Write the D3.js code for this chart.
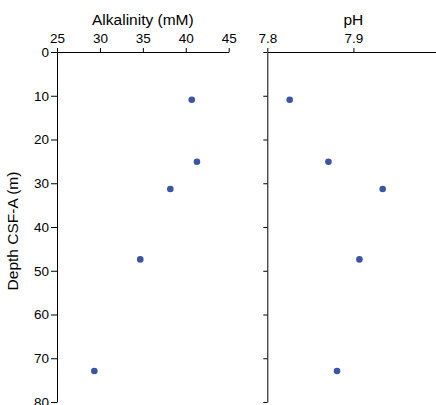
<!DOCTYPE html>
<html><head><meta charset="utf-8">
<script src="https://cdn.jsdelivr.net/npm/d3@7"></script>
<style>
html,body{margin:0;padding:0;background:#fff;}
svg{display:block;font-family:"Liberation Sans",Arial,Helvetica,sans-serif;}
</style></head>
<body>
<svg id="chart" width="436" height="405"></svg>
<script>
// Data
const depth = [10.9, 25.1, 31.3, 47.4, 72.9];
const alkalinity = [40.7, 41.3, 38.2, 34.7, 29.35];
const pH = [7.826, 7.871, 7.934, 7.907, 7.881];
const alkTicks = [25, 30, 35, 40, 45];
const pHTicks = [7.8, 7.9, 8.0];
const pHTickLabels = ["7.8", "7.9", "8"];
const depthTicks = [0, 10, 20, 30, 40, 50, 60, 70, 80];

(function () {
const svg = d3.select("#chart");
const plotTop = 52, plotBottom = 402;
const y = d3.scaleLinear().domain([0, 80]).range([plotTop, plotBottom]);
const xA = d3.scaleLinear().domain([25, 45]).range([57, 228.7]);
const xP = d3.scaleLinear().domain([7.8, 8.0]).range([267.3, 439.5]);
const dotColor = "#3b55a5";

function styleAxis(g, size) {
  g.selectAll("path").attr("stroke", "#000").attr("stroke-width", 1);
  g.selectAll("line").attr("stroke", "#000");
  g.selectAll("text").attr("fill", "#000").style("font-size", size + "px");
}

// Left panel
const gA = svg.append("g");
gA.append("g").attr("transform", `translate(0,${plotTop})`)
  .call(d3.axisTop(xA).tickValues(alkTicks).tickSizeInner(4).tickSizeOuter(0).tickPadding(5))
  .call(g => styleAxis(g, 13.5));
gA.append("g").attr("transform", `translate(${xA.range()[0]},0)`)
  .call(d3.axisLeft(y).tickValues(depthTicks).tickSizeInner(6).tickSizeOuter(0).tickPadding(2))
  .call(g => styleAxis(g, 13.5));
gA.append("text").attr("x", d3.mean(xA.range())).attr("y", 25).attr("text-anchor", "middle")
  .style("font-size", "15.5px").text("Alkalinity (mM)");
gA.selectAll("circle.a").data(depth).join("circle").attr("class", "a")
  .attr("cx", (d, i) => xA(alkalinity[i])).attr("cy", d => y(d)).attr("r", 3.3).attr("fill", dotColor);

// Right panel
const gP = svg.append("g");
gP.append("g").attr("transform", `translate(0,${plotTop})`)
  .call(d3.axisTop(xP).tickValues(pHTicks).tickFormat((d, i) => pHTickLabels[i]).tickSizeInner(4).tickSizeOuter(0).tickPadding(5))
  .call(g => styleAxis(g, 13.5));
gP.append("g").attr("transform", `translate(${xP.range()[0]},0)`)
  .call(d3.axisLeft(y).tickValues(depthTicks).tickSizeInner(4).tickSizeOuter(0).tickFormat(""))
  .call(g => styleAxis(g, 13.5));
gP.append("text").attr("x", d3.mean(xP.range())).attr("y", 25).attr("text-anchor", "middle")
  .style("font-size", "15.5px").text("pH");
gP.selectAll("circle.p").data(depth).join("circle").attr("class", "p")
  .attr("cx", (d, i) => xP(pH[i])).attr("cy", d => y(d)).attr("r", 3.3).attr("fill", dotColor);

// Y axis label
svg.append("text").attr("transform", `translate(18,${d3.mean(y.range()) + 4}) rotate(-90)`)
  .attr("text-anchor", "middle").style("font-size", "15.5px").text("Depth CSF-A (m)");
})();
</script>
</body></html>
